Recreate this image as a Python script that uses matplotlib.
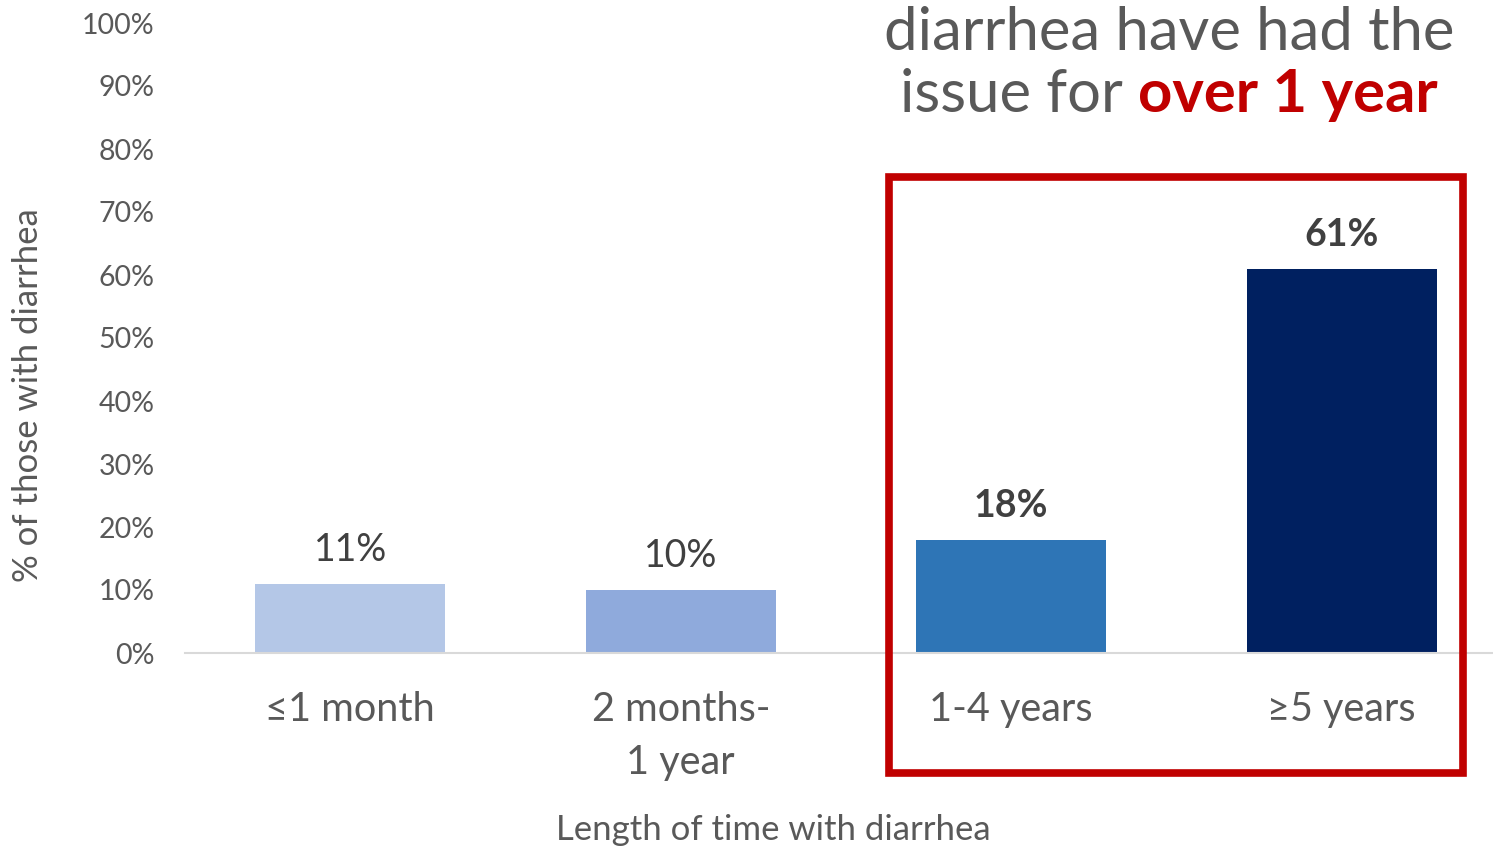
import matplotlib.pyplot as plt
from matplotlib.patches import Rectangle

#: Chart data
categories = ["≤1 month", "2 months-\n1 year", "1-4 years", "≥5 years"]
values = [0.11, 0.10, 0.18, 0.61]
value_labels = ["11%", "10%", "18%", "61%"]
bold_labels = [False, False, True, True]
bar_colors = ["#B4C7E7", "#8FAADC", "#2E75B6", "#002060"]
yticks = [i / 10 for i in range(11)]
ytick_labels = [f"{i * 10}%" for i in range(11)]

plt.rcParams['font.family'] = ['Lato', 'DejaVu Sans']
gray = "#595959"
red = "#C00000"

W, H = 1493, 846
fig = plt.figure(figsize=(W / 100, H / 100), dpi=100)
ax = fig.add_axes([185 / W, (H - 653) / H, (W - 185) / W, (653 - 23) / H])

x = list(range(len(categories)))
ax.bar(x, values, width=0.575, color=bar_colors, zorder=2)
ax.set_xlim(-0.5, -0.5 + (W - 185) / 330.5)
ax.set_ylim(0, 1)

#: Value labels above the bars
for xi, v, lab, b in zip(x, values, value_labels, bold_labels):
    ax.annotate(lab, (xi, v), xytext=(0, 24.5), textcoords="offset points",
                ha="center", va="center", fontsize=27,
                fontweight="bold" if b else "normal", color="#404040")

ax.set_yticks(yticks)
ax.set_yticklabels(ytick_labels, fontsize=20.5, color=gray)
ax.set_xticks(x)
ax.set_xticklabels(categories, fontsize=28.5, color=gray, linespacing=1.55)
ax.tick_params(axis="both", length=0)
ax.tick_params(axis="x", pad=27)
ax.tick_params(axis="y", pad=22)
for s in ["top", "right", "left"]:
    ax.spines[s].set_visible(False)
ax.spines["bottom"].set_color("#D9D9D9")
ax.spines["bottom"].set_linewidth(1.5)

#: Axis titles
fig.text(773 / W, 1 - 830 / H, "Length of time with diarrhea", ha="center", va="center",
         fontsize=25, color=gray)
fig.text(28 / W, 1 - 395 / H, "% of those with diarrhea", ha="center", va="center",
         rotation=90, fontsize=25, color=gray)

#: Headline text (top right)
fig.text(1169 / W, 1 - 33 / H, "diarrhea have had the", ha="center", va="center",
         fontsize=43, color=gray)
t1 = fig.text(0, 1 - 95 / H, "issue for ", ha="left", va="center",
              fontsize=43, color=gray)
t2 = fig.text(0, 1 - 95 / H, "over 1 year", ha="left", va="center",
              fontsize=43, color=red, fontweight="bold")
fig.canvas.draw()
w1 = t1.get_window_extent().width
w2 = t2.get_window_extent().width
x0 = 1169 - (w1 + w2) / 2
t1.set_x(x0 / W)
t2.set_x((x0 + w1) / W)

#: Red highlight box
fig.patches.append(Rectangle((889 / W, 1 - 773 / H), (1463 - 889) / W, (773 - 177) / H,
                             transform=fig.transFigure, fill=False, edgecolor=red,
                             linewidth=5.5, zorder=5))

fig.savefig("out.png", dpi=100)
